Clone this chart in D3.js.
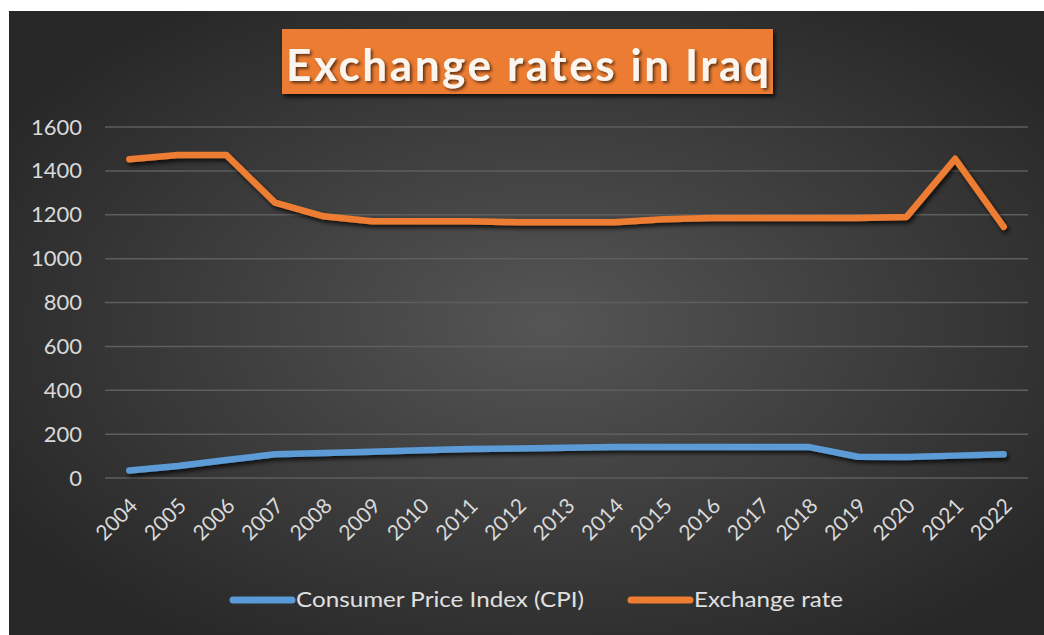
<!DOCTYPE html>
<html>
<head>
<meta charset="utf-8">
<script src="https://cdn.jsdelivr.net/npm/d3@7"></script>
<style>
  html, body { margin: 0; padding: 0; background: #ffffff; }
  svg { display: block; }
  text { font-family: Lato, "Open Sans", sans-serif; }
</style>
</head>
<body>
<svg id="chart" width="1044" height="635"></svg>
<script>
// Yearly series
const years = ["2004","2005","2006","2007","2008","2009","2010","2011","2012","2013",
               "2014","2015","2016","2017","2018","2019","2020","2021","2022"];
const cpi = [34, 55, 82, 108, 114, 120, 126, 132, 135, 138,
             141, 141, 141, 141, 141, 97, 96, 102, 108];
const exchangeRate = [1453, 1472, 1472, 1255, 1193, 1170, 1170, 1170, 1166, 1166,
                      1166, 1180, 1185, 1185, 1185, 1185, 1190, 1455, 1145];
const yTicks = [0, 200, 400, 600, 800, 1000, 1200, 1400, 1600];
const seriesNames = ["Consumer Price Index (CPI)", "Exchange rate"];
const seriesColors = ["#5B9BD5", "#ED7D31"];
const titleText = "Exchange rates in Iraq";

const svg = d3.select("#chart");
const defs = svg.append("defs");

// Background: dark radial gradient
const bg = defs.append("radialGradient").attr("id", "bgGrad")
  .attr("cx", "52%").attr("cy", "50%").attr("r", "62%");
bg.append("stop").attr("offset", "0%").attr("stop-color", "#555555");
bg.append("stop").attr("offset", "100%").attr("stop-color", "#272727");

// Soft drop shadow used by the lines and title
const sh = defs.append("filter").attr("id", "shadow")
  .attr("x", "-10%").attr("y", "-50%").attr("width", "120%").attr("height", "200%");
sh.append("feDropShadow").attr("dx", 2).attr("dy", 3).attr("stdDeviation", 2)
  .attr("flood-color", "#000").attr("flood-opacity", 0.75);

const txtSh = defs.append("filter").attr("id", "textShadow")
  .attr("x", "-10%").attr("y", "-30%").attr("width", "120%").attr("height", "160%");
txtSh.append("feDropShadow").attr("dx", 2).attr("dy", 2).attr("stdDeviation", 1.5)
  .attr("flood-color", "#000").attr("flood-opacity", 0.6);

svg.append("rect").attr("x", 9).attr("y", 11).attr("width", 1035).attr("height", 624)
  .attr("fill", "url(#bgGrad)");

// Scales
const x = d3.scalePoint().domain(years).range([105, 1028]).padding(0.5);
const y = d3.scaleLinear().domain([0, 1600]).range([478, 127]);

// Gridlines
svg.append("g").selectAll("line").data(yTicks).join("line")
  .attr("x1", 105).attr("x2", 1028)
  .attr("y1", d => y(d)).attr("y2", d => y(d))
  .attr("stroke", "#5e5e5e").attr("stroke-width", 1.5);

// Y axis labels
const yAxis = svg.append("g").attr("transform", "translate(86,0)")
  .call(d3.axisLeft(y).tickValues(yTicks).tickFormat(d3.format("d")).tickSize(0).tickPadding(4));
yAxis.select(".domain").remove();
yAxis.selectAll("text")
  .attr("fill", "#d9d9d9").attr("font-size", 22)
  .attr("font-family", "Lato, sans-serif");

// X axis labels, rotated
const xAxis = svg.append("g").attr("transform", "translate(0,490)")
  .call(d3.axisBottom(x).tickSize(0).tickPadding(0));
xAxis.select(".domain").remove();
xAxis.selectAll("text")
  .attr("fill", "#d9d9d9").attr("font-size", 21)
  .attr("font-family", "Lato, sans-serif")
  .attr("text-anchor", "end")
  .attr("dy", "0.35em")
  .attr("transform", "translate(4,12) rotate(-45)");

// Lines
const line = d3.line().x((d, i) => x(years[i])).y(d => y(d));
[cpi, exchangeRate].forEach((s, k) => {
  svg.append("path").datum(s)
    .attr("d", line)
    .attr("fill", "none")
    .attr("stroke", seriesColors[k])
    .attr("stroke-width", 6.5)
    .attr("stroke-linejoin", "round")
    .attr("stroke-linecap", "round")
    .attr("filter", "url(#shadow)");
});

// Title banner
svg.append("rect").attr("x", 282).attr("y", 29).attr("width", 491).attr("height", 65)
  .attr("fill", "#EB7C33").attr("filter", "url(#shadow)");
svg.append("text").attr("x", 286).attr("y", 81)
  .attr("fill", "#fbf5ef").attr("font-size", 44).attr("font-weight", "bold")
  .attr("textLength", 483).attr("lengthAdjust", "spacing")
  .attr("filter", "url(#textShadow)")
  .text(titleText);

// Legend
const legend = [
  { x0: 233, x1: 292, tx: 296, tw: 288 },
  { x0: 631, x1: 690, tx: 694, tw: 149 }
];
legend.forEach((L, k) => {
  svg.append("line").attr("x1", L.x0).attr("x2", L.x1).attr("y1", 600).attr("y2", 600)
    .attr("stroke", seriesColors[k]).attr("stroke-width", 7).attr("stroke-linecap", "round");
  svg.append("text").attr("x", L.tx).attr("y", 600).attr("dy", "0.35em")
    .attr("fill", "#e0e0e0").attr("font-size", 21)
    .attr("textLength", L.tw).attr("lengthAdjust", "spacingAndGlyphs")
    .text(seriesNames[k]);
});
</script>
</body>
</html>
